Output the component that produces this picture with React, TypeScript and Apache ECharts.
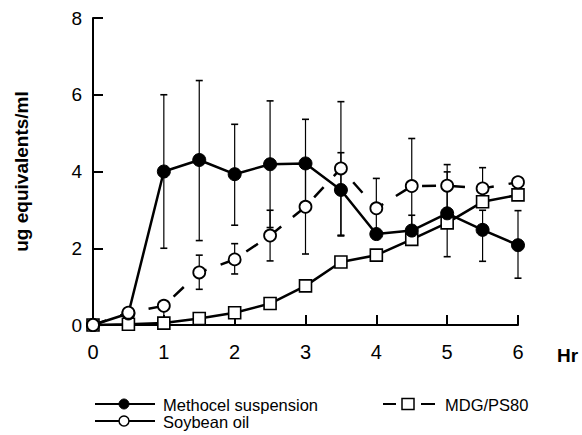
import React, { useEffect, useRef } from "react";
import * as echarts from "echarts";

const hours = [0, 0.5, 1, 1.5, 2, 2.5, 3, 3.5, 4, 4.5, 5, 5.5, 6];
const seriesNames = ["Methocel suspension", "Soybean oil", "MDG/PS80"];

const methocel = [0, 0.3, 4.0, 4.3, 3.93, 4.19, 4.21, 3.52, 2.37, 2.46, 2.91, 2.48, 2.08];
const methocelErrUp = [0, 0, 2.0, 2.07, 1.3, 1.65, 1.15, 0.97, 0, 0.4, 1.08, 0.51, 0.9];
const methocelErrDown = [0, 0, 2.0, 2.1, 1.33, 1.65, 1.15, 1.2, 0, 0.38, 1.13, 0.82, 0.86];

const soybean = [0, 0.32, 0.5, 1.37, 1.71, 2.33, 3.08, 4.08, 3.04, 3.62, 3.63, 3.56, 3.72];
const soybeanErrUp = [0, 0, 0, 0.45, 0.41, 0.66, 1.2, 1.74, 0.78, 1.24, 0.55, 0.54, 0];
const soybeanErrDown = [0, 0, 0.45, 0.44, 0.38, 0.66, 1.23, 1.74, 0.78, 1.26, 0.62, 0.4, 0];

const mdg = [0, 0.02, 0.05, 0.17, 0.32, 0.56, 1.02, 1.64, 1.82, 2.23, 2.66, 3.21, 3.39];
const mdgErrUp = [0, 0, 0, 0, 0, 0, 0, 0, 0, 0, 0, 0, 0];
const mdgErrDown = [0, 0, 0, 0, 0.32, 0, 0, 0, 0, 0, 0, 0, 0];

const yTicks = [0, 2, 4, 6, 8];
const xTicks = [0, 1, 2, 3, 4, 5, 6];

const FONT = "Liberation Sans, Arial, Helvetica, sans-serif";

function errData(vals: number[], up: number[], down: number[]) {
  return hours
    .map((h, i) => [h, vals[i] - down[i], vals[i] + up[i], vals[i]])
    .filter((d) => d[1] !== d[2]);
}

function errSeries(data: number[][], z: number) {
  return {
    type: "custom",
    z,
    silent: true,
    data,
    encode: { x: 0, y: [1, 2] },
    renderItem: (params: any, api: any) => {
      const x = api.value(0);
      const lo = api.value(1);
      const hi = api.value(2);
      const v = api.value(3);
      const pLo = api.coord([x, lo]);
      const pHi = api.coord([x, hi]);
      const cap = 3.5;
      const style = { stroke: "#000", lineWidth: 1.2 };
      const children: any[] = [
        { type: "line", shape: { x1: pLo[0], y1: pLo[1], x2: pHi[0], y2: pHi[1] }, style },
      ];
      if (hi > v) {
        children.push({ type: "line", shape: { x1: pHi[0] - cap, y1: pHi[1], x2: pHi[0] + cap, y2: pHi[1] }, style: { stroke: "#000", lineWidth: 1.6 } });
      }
      if (lo < v) {
        children.push({ type: "line", shape: { x1: pLo[0] - cap, y1: pLo[1], x2: pLo[0] + cap, y2: pLo[1] }, style: { stroke: "#000", lineWidth: 1.6 } });
      }
      return { type: "group", children };
    },
  };
}

export default function App() {
  const ref = useRef<HTMLDivElement>(null);
  useEffect(() => {
    if (!ref.current) return;
    const chart = echarts.init(ref.current, null, { renderer: "svg" });
    const pts = (vals: number[]) => hours.map((h, i) => [h, vals[i]]);
    const lineBase = {
      type: "line",
      symbolSize: 12,
      z: 5,
      clip: false,
    };
    chart.setOption({
      animation: false,
      backgroundColor: "#fff",
      textStyle: { fontFamily: FONT },
      grid: { left: 93, right: 64, top: 18, bottom: 110 },
      xAxis: {
        type: "value",
        min: 0,
        max: 6,
        interval: 1,
        axisLine: { show: true, lineStyle: { color: "#000", width: 2 } },
        axisTick: { show: true, inside: true, length: 10, lineStyle: { color: "#000", width: 2 } },
        axisLabel: {
          color: "#000",
          fontSize: 20,
          fontFamily: FONT,
          margin: 17,
          formatter: (v: number) => (xTicks.includes(v) ? String(v) : ""),
        },
        splitLine: { show: false },
      },
      yAxis: {
        type: "value",
        min: 0,
        max: 8,
        interval: 2,
        name: "ug equivalents/ml",
        nameLocation: "middle",
        nameGap: 62,
        nameRotate: 90,
        nameTextStyle: { color: "#000", fontSize: 19, fontWeight: "bold", fontFamily: FONT },
        axisLine: { show: true, lineStyle: { color: "#000", width: 2 } },
        axisTick: { show: true, inside: true, length: 10, lineStyle: { color: "#000", width: 2 } },
        axisLabel: {
          color: "#000",
          fontSize: 19,
          fontFamily: FONT,
          margin: 11,
          formatter: (v: number) => (yTicks.includes(v) ? String(v) : ""),
        },
        splitLine: { show: false },
      },
      series: [
        errSeries(errData(methocel, methocelErrUp, methocelErrDown), 1),
        errSeries(errData(soybean, soybeanErrUp, soybeanErrDown), 1),
        errSeries(errData(mdg, mdgErrUp, mdgErrDown), 1),
        {
          ...lineBase,
          name: seriesNames[2],
          data: pts(mdg),
          symbol: "rect",
          symbolSize: 12,
          lineStyle: { color: "#000", width: 2.5 },
          itemStyle: { color: "#fff", borderColor: "#000", borderWidth: 1.6 },
        },
        {
          ...lineBase,
          name: seriesNames[0],
          data: pts(methocel),
          symbol: "circle",
          symbolSize: 13,
          lineStyle: { color: "#000", width: 2.5 },
          itemStyle: { color: "#000", borderColor: "#000", borderWidth: 1 },
        },
        {
          ...lineBase,
          name: seriesNames[1],
          data: pts(soybean),
          symbol: "circle",
          z: 6,
          lineStyle: { color: "#000", width: 2.5, type: [14, 15] },
          itemStyle: { color: "#fff", borderColor: "#000", borderWidth: 1.8 },
        },
      ],
      graphic: [
        { type: "text", left: 557, top: 346, style: { text: "Hr", font: `bold 19px ${FONT}`, fill: "#000" } },
        // legend row 1: Methocel
        { type: "line", shape: { x1: 95, y1: 404, x2: 155, y2: 404 }, style: { stroke: "#000", lineWidth: 2 } },
        { type: "circle", shape: { cx: 124, cy: 404, r: 5 }, style: { fill: "#000", stroke: "#000" } },
        { type: "text", x: 163, y: 405, style: { text: seriesNames[0], font: `16.5px ${FONT}`, fill: "#000", verticalAlign: "middle" } },
        // legend row 2: Soybean
        { type: "line", shape: { x1: 95, y1: 421, x2: 155, y2: 421 }, style: { stroke: "#000", lineWidth: 2 } },
        { type: "circle", shape: { cx: 124, cy: 421, r: 5 }, style: { fill: "#fff", stroke: "#000", lineWidth: 1.5 } },
        { type: "text", x: 163, y: 422, style: { text: seriesNames[1], font: `16.5px ${FONT}`, fill: "#000", verticalAlign: "middle" } },
        // legend MDG
        { type: "line", shape: { x1: 383, y1: 404, x2: 396, y2: 404 }, style: { stroke: "#000", lineWidth: 2 } },
        { type: "rect", shape: { x: 402, y: 398.5, width: 12, height: 11 }, style: { fill: "#fff", stroke: "#000", lineWidth: 1.5 } },
        { type: "line", shape: { x1: 421, y1: 404, x2: 435, y2: 404 }, style: { stroke: "#000", lineWidth: 2 } },
        { type: "text", x: 445, y: 405, style: { text: seriesNames[2], font: `16.5px ${FONT}`, fill: "#000", verticalAlign: "middle" } },
      ],
    });
    return () => chart.dispose();
  }, []);
  return <div ref={ref} style={{ width: 582, height: 435, position: "absolute", left: 0, top: 0, background: "#fff" }} />;
}
